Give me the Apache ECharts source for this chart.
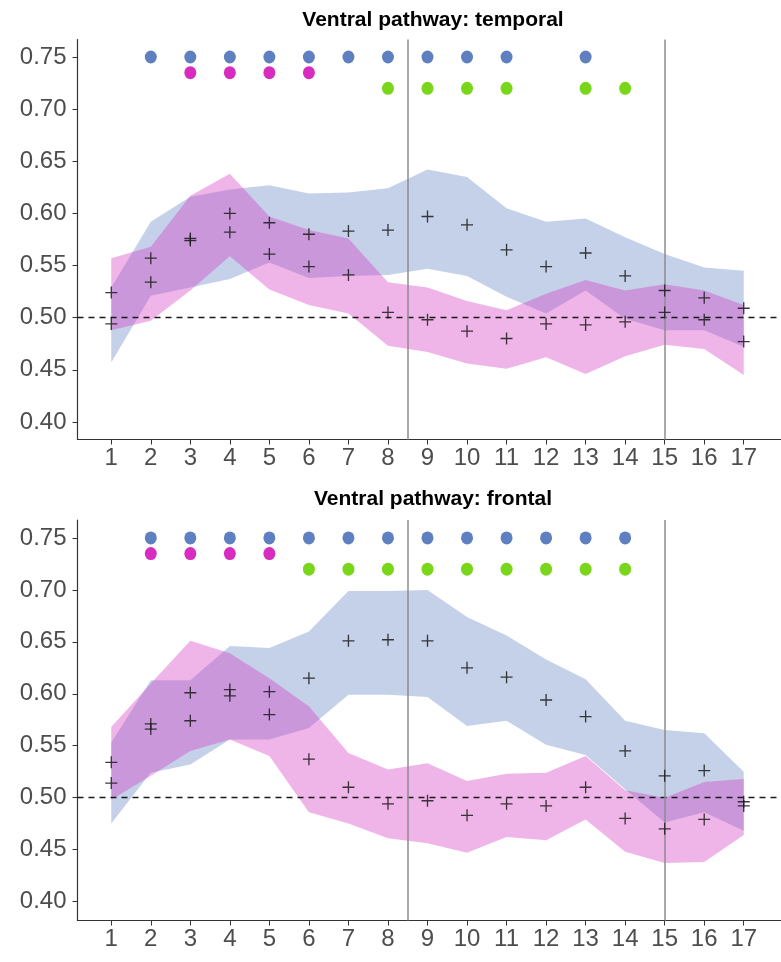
<!DOCTYPE html>
<html>
<head>
<meta charset="utf-8">
<script src="https://cdn.jsdelivr.net/npm/echarts@6/dist/echarts.min.js"></script>
<style>
  html, body { margin: 0; padding: 0; background: #fff; }
  #chart { width: 781px; height: 962px; }
</style>
</head>
<body>
<div id="chart"></div>
<script>
var xs = [1, 2, 3, 4, 5, 6, 7, 8, 9, 10, 11, 12, 13, 14, 15, 16, 17];
var yTicks = [0.40, 0.45, 0.50, 0.55, 0.60, 0.65, 0.70, 0.75];
var titles = ["Ventral pathway: temporal", "Ventral pathway: frontal"];
var splitLines = [8.5, 15];

// temporal
var tBlueMean = [0.494, 0.557, 0.574, 0.582, 0.591, 0.580, 0.583, 0.584, 0.597, 0.589, 0.565, 0.549, 0.562, 0.540, 0.526, 0.519, 0.509];
var tBlueLow  = [0.457, 0.521, 0.529, 0.537, 0.553, 0.538, 0.540, 0.541, 0.547, 0.540, 0.520, 0.504, 0.526, 0.499, 0.488, 0.488, 0.472];
var tBlueHigh = [0.529, 0.592, 0.616, 0.623, 0.627, 0.619, 0.620, 0.624, 0.642, 0.635, 0.605, 0.592, 0.595, 0.577, 0.561, 0.548, 0.545];
var tPinkMean = [0.524, 0.534, 0.576, 0.600, 0.561, 0.549, 0.541, 0.505, 0.498, 0.487, 0.480, 0.494, 0.493, 0.496, 0.505, 0.498, 0.477];
var tPinkLow  = [0.488, 0.497, 0.526, 0.559, 0.527, 0.512, 0.504, 0.473, 0.467, 0.456, 0.451, 0.462, 0.446, 0.463, 0.474, 0.470, 0.445];
var tPinkHigh = [0.557, 0.568, 0.617, 0.638, 0.597, 0.584, 0.576, 0.534, 0.529, 0.516, 0.507, 0.523, 0.536, 0.526, 0.532, 0.526, 0.512];
var tBlueDots  = [2, 3, 4, 5, 6, 7, 8, 9, 10, 11, 13];
var tPinkDots  = [3, 4, 5, 6];
var tGreenDots = [8, 9, 10, 11, 13, 14];

// frontal
var fBlueMean = [0.514, 0.571, 0.574, 0.604, 0.602, 0.615, 0.651, 0.652, 0.651, 0.625, 0.616, 0.594, 0.578, 0.545, 0.521, 0.526, 0.496];
var fBlueLow  = [0.475, 0.524, 0.532, 0.556, 0.556, 0.567, 0.599, 0.599, 0.597, 0.569, 0.574, 0.551, 0.541, 0.508, 0.476, 0.486, 0.468];
var fBlueHigh = [0.553, 0.613, 0.613, 0.646, 0.644, 0.660, 0.699, 0.699, 0.700, 0.674, 0.656, 0.633, 0.614, 0.574, 0.565, 0.562, 0.525];
var fPinkMean = [0.534, 0.566, 0.601, 0.598, 0.580, 0.537, 0.510, 0.494, 0.497, 0.483, 0.494, 0.492, 0.510, 0.480, 0.470, 0.479, 0.492];
var fPinkLow  = [0.498, 0.521, 0.545, 0.556, 0.540, 0.486, 0.475, 0.461, 0.456, 0.447, 0.462, 0.459, 0.479, 0.448, 0.437, 0.438, 0.464];
var fPinkHigh = [0.568, 0.610, 0.651, 0.639, 0.615, 0.588, 0.543, 0.527, 0.533, 0.516, 0.523, 0.524, 0.540, 0.507, 0.500, 0.515, 0.518];
var fBlueDots  = [2, 3, 4, 5, 6, 7, 8, 9, 10, 11, 12, 13, 14];
var fPinkDots  = [2, 3, 4, 5];
var fGreenDots = [6, 7, 8, 9, 10, 11, 12, 13, 14];

var dotLevels = { blue: 0.75, pink: 0.735, green: 0.72 };
var colBlue = "#5f80c0", colPink = "#d82cc0", colGreen = "#7ad61a";
var crossPath = "path://M0,4.45H10V5.55H0Z M4.45,0H5.55V10H4.45Z";

var chart = echarts.init(document.getElementById("chart"), null, { renderer: "canvas" });

function band(idx, low, high, color) {
  return {
    type: "custom",
    xAxisIndex: idx,
    yAxisIndex: idx,
    z: 1,
    silent: true,
    data: xs.map(function (x, i) { return [x, low[i], high[i]]; }),
    encode: { x: 0, y: [1, 2] },
    renderItem: function (params, api) {
      if (params.dataIndex !== 0) return;
      var pts = [];
      for (var i = 0; i < xs.length; i++) pts.push(api.coord([xs[i], high[i]]));
      for (var j = xs.length - 1; j >= 0; j--) pts.push(api.coord([xs[j], low[j]]));
      return { type: "polygon", shape: { points: pts }, style: { fill: color } };
    }
  };
}

function dots(idx, list, level, color) {
  return {
    type: "scatter",
    xAxisIndex: idx,
    yAxisIndex: idx,
    z: 4,
    symbol: "circle",
    symbolSize: [12, 13],
    itemStyle: { color: color, opacity: 1 },
    data: list.map(function (x) { return [x, level]; })
  };
}

function crosses(idx, a, b) {
  var pts = xs.map(function (x, i) { return [x, a[i]]; }).concat(xs.map(function (x, i) { return [x, b[i]]; }));
  return {
    type: "scatter",
    xAxisIndex: idx,
    yAxisIndex: idx,
    z: 5,
    symbol: crossPath,
    symbolSize: 12,
    itemStyle: { color: "#1a1a1a", opacity: 0.85 },
    data: pts,
    markLine: {
      silent: true,
      symbol: "none",
      label: { show: false },
      data: [
        { yAxis: 0.5, lineStyle: { color: "#1a1a1a", type: [6, 5], width: 1.4 } },
        { xAxis: splitLines[0], lineStyle: { color: "#8c8c8c", type: "solid", width: 1.5 } },
        { xAxis: splitLines[1], lineStyle: { color: "#8c8c8c", type: "solid", width: 1.5 } }
      ]
    }
  };
}

function xAxis(idx) {
  return {
    type: "value",
    gridIndex: idx,
    min: 0.146,
    max: 17.93,
    splitLine: { show: false },
    axisLine: { onZero: false, lineStyle: { color: "#333", width: 1.2 } },
    axisTick: { length: 5, lineStyle: { color: "#333" }, customValues: xs },
    axisLabel: { customValues: xs, fontSize: 24, color: "#4d4d4d", margin: 7, fontFamily: "Liberation Sans" }
  };
}

function yAxis(idx, min, max) {
  return {
    type: "value",
    gridIndex: idx,
    min: min,
    max: max,
    splitLine: { show: false },
    axisLine: { show: true, lineStyle: { color: "#333", width: 1.2 } },
    axisTick: { show: true, length: 5, lineStyle: { color: "#333" }, customValues: yTicks },
    axisLabel: {
      customValues: yTicks,
      fontSize: 24,
      color: "#4d4d4d",
      margin: 11,
      fontFamily: "Liberation Sans",
      formatter: function (v) { return v.toFixed(2); }
    }
  };
}

chart.setOption({
  animation: false,
  backgroundColor: "#fff",
  title: [
    { text: titles[0], left: 428, top: 5, textAlign: "center",
      textStyle: { fontSize: 21, fontWeight: "bold", color: "#000", fontFamily: "Liberation Sans" } },
    { text: titles[1], left: 428, top: 484, textAlign: "center",
      textStyle: { fontSize: 21, fontWeight: "bold", color: "#000", fontFamily: "Liberation Sans" } }
  ],
  grid: [
    { left: 77.5, top: 39.5, width: 703, height: 400 },
    { left: 77.5, top: 520, width: 703, height: 400.5 }
  ],
  xAxis: [xAxis(0), xAxis(1)],
  yAxis: [yAxis(0, 0.3831, 0.7668), yAxis(1, 0.3817, 0.7673)],
  series: [
    band(0, tBlueLow, tBlueHigh, "rgba(96,129,193,0.37)"),
    band(0, tPinkLow, tPinkHigh, "rgba(214,60,195,0.38)"),
    crosses(0, tBlueMean, tPinkMean),
    dots(0, tBlueDots, dotLevels.blue, colBlue),
    dots(0, tPinkDots, dotLevels.pink, colPink),
    dots(0, tGreenDots, dotLevels.green, colGreen),
    band(1, fBlueLow, fBlueHigh, "rgba(96,129,193,0.37)"),
    band(1, fPinkLow, fPinkHigh, "rgba(214,60,195,0.38)"),
    crosses(1, fBlueMean, fPinkMean),
    dots(1, fBlueDots, dotLevels.blue, colBlue),
    dots(1, fPinkDots, dotLevels.pink, colPink),
    dots(1, fGreenDots, dotLevels.green, colGreen)
  ]
});
</script>
</body>
</html>
